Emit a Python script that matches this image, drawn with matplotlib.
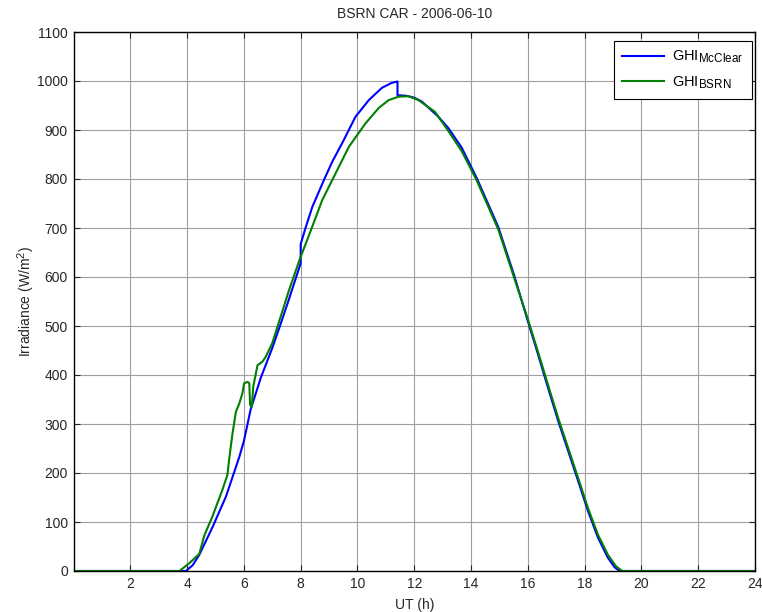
import matplotlib
matplotlib.use("Agg")
import matplotlib.pyplot as plt
import matplotlib._mathtext as _mt

_mt.SHRINK_FACTOR = 0.8

plt.rcParams['font.family'] = ['Liberation Sans', 'DejaVu Sans']
plt.rcParams['mathtext.fontset'] = 'custom'
plt.rcParams['mathtext.rm'] = 'Liberation Sans'
plt.rcParams['mathtext.it'] = 'Liberation Sans:italic'

title = "BSRN CAR - 2006-06-10"
xlabel = "UT (h)"
ylabel = "Irradiance (W/m$^2$)"
series_names = ["GHI$_{\\mathrm{McClear}}$", "GHI$_{\\mathrm{BSRN}}$"]

mcclear_hours = [0, 3.96, 4.2, 4.43, 4.9, 5.37, 5.84, 6.0, 6.24, 6.6, 7.0, 7.3, 7.59, 8.0, 8.0,
                 8.17, 8.41, 8.82, 9.11, 9.46, 9.93, 10.4, 10.86, 11.2, 11.41, 11.41, 11.7,
                 12.0, 12.27, 12.85, 13.2, 13.67, 14.2, 14.96, 15.52, 16.0, 16.36, 16.71,
                 17.07, 17.42, 17.77, 18.12, 18.47, 18.82, 19.05, 19.23, 24]
mcclear_ghi = [0, 0, 12, 33, 90, 152, 233, 265, 330, 395, 455, 505, 555, 628, 667,
               700, 743, 798, 835, 873, 927, 961, 986, 996, 999, 971, 970,
               966, 958, 927, 904, 864, 802, 702, 603, 510, 442, 374,
               306, 245, 184, 122, 68, 27, 8, 0, 0]

bsrn_hours = [0, 3.73, 4.08, 4.43, 4.61, 4.89, 5.24, 5.42, 5.48, 5.6, 5.72, 5.84, 5.95,
              6.01, 6.13, 6.19, 6.22, 6.28, 6.33, 6.48, 6.65, 6.77, 7.0, 7.24, 7.59,
              7.96, 8.41, 8.76, 9.2, 9.7, 10.29, 10.75, 11.1, 11.45, 11.8, 12.15, 12.73,
              13.2, 13.67, 14.2, 14.96, 15.52, 16.0, 16.36, 16.71, 17.07, 17.42, 17.77,
              18.12, 18.47, 18.82, 19.1, 19.32, 24]
bsrn_ghi = [0, 0, 16, 35, 73, 111, 165, 196, 227, 281, 325, 342, 363,
            383, 386, 383, 339, 335, 376, 420, 427, 437, 465, 509, 573,
            635, 703, 757, 808, 866, 914, 945, 961, 968, 969, 961, 937,
            898, 857, 797, 697, 598, 514, 447, 380, 312, 251, 190,
            128, 74, 33, 10, 0, 0]

xticks = list(range(2, 25, 2))
yticks = list(range(0, 1101, 100))

fig = plt.figure(figsize=(7.62, 6.12), dpi=100)
ax = fig.add_axes([73.5 / 762, 1 - 571 / 612, 681.5 / 762, 539 / 612])

ax.plot(mcclear_hours, mcclear_ghi, color='#0000ff', lw=1.5, label=series_names[0])
ax.plot(bsrn_hours, bsrn_ghi, color='#008000', lw=1.5, label=series_names[1])

ax.set_xlim(0, 24)
ax.set_ylim(0, 1100)
ax.set_xticks(xticks)
ax.set_yticks(yticks)
ax.grid(True, color='#a0a0a0', lw=0.8, ls='-')
ax.set_axisbelow(True)
ax.tick_params(direction='in', top=True, right=True, length=4, width=0.8,
               labelsize=10, colors='#262626', labelcolor='#262626', pad=4)
for s in ax.spines.values():
    s.set_linewidth(1.0)
    s.set_color('k')

ax.set_title(title, fontsize=10, pad=10, color='#262626')
ax.set_xlabel(xlabel, fontsize=10, labelpad=5, color='#262626')
ax.set_ylabel(ylabel, fontsize=10, labelpad=1, color='#262626')

leg = ax.legend(loc='upper right', bbox_to_anchor=(0.9956, 0.9833), fontsize=10.5,
                handlelength=2.9, handletextpad=0.55, borderpad=0.55, labelspacing=0.6,
                fancybox=False, framealpha=1, edgecolor='k', borderaxespad=0)
leg.get_frame().set_linewidth(0.8)

fig.savefig("out.png", dpi=100)
